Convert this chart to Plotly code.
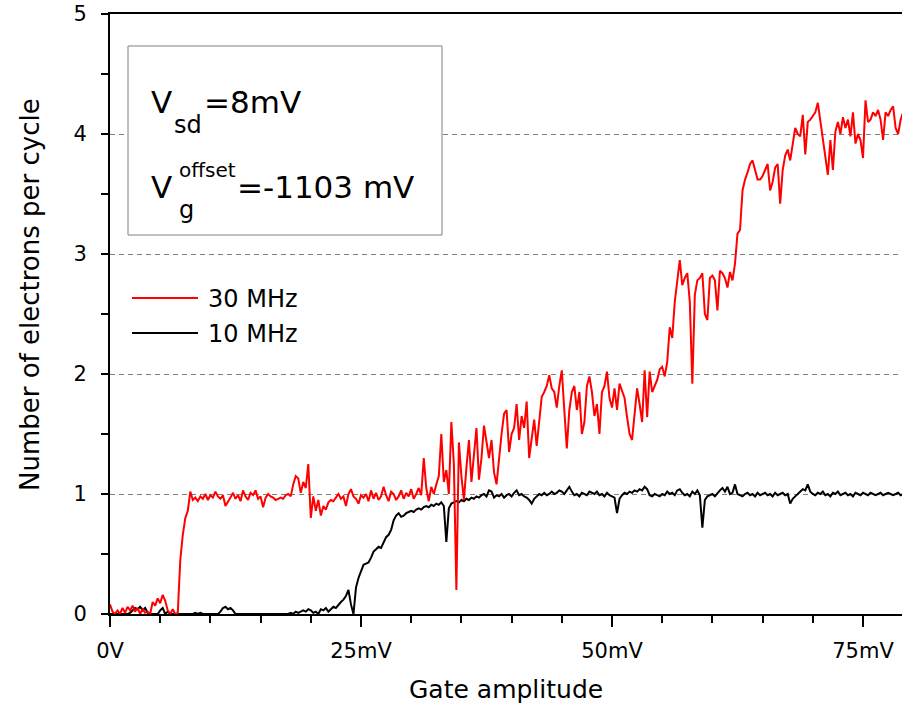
import plotly.graph_objects as go

# Gate amplitude sampling step (mV); both traces share the same grid.
gate_step_mv = 0.25

# Number of electrons per cycle, 30 MHz drive (one row per 5 mV)
electrons_30mhz = [
    0.08, 0.02, 0.0, 0.03, 0.0, 0.05, 0.01, 0.06, 0.03, 0.07, 0.02, 0.05, 0.0, 0.04, 0.01, 0.02, 0.0, 0.1, 0.07, 0.13,
    0.09, 0.16, 0.11, 0.03, 0.0, 0.04, 0.0, 0.01, 0.45, 0.66, 0.8, 0.86, 1.02, 0.95, 0.97, 0.94, 0.98, 0.96, 1.0, 0.95,
    0.99, 0.97, 1.02, 0.98, 0.96, 0.99, 0.9, 0.93, 0.97, 1.01, 0.96, 0.99, 0.94, 1.03, 0.98, 0.95, 1.01, 0.99, 1.03, 0.96,
    0.98, 0.89, 0.97, 1.0, 0.98, 0.97, 0.95, 0.96, 0.97, 0.96, 0.99, 1.0, 0.98, 1.08, 1.15, 1.13, 1.01, 1.1, 1.05, 1.25,
    0.8, 0.98, 0.86, 0.95, 0.82, 0.9, 0.87, 0.93, 0.95, 0.94, 0.97, 1.0, 0.96, 0.98, 0.9, 1.0, 1.04, 0.98, 0.96, 0.92,
    0.99, 0.97, 1.0, 0.94, 1.03, 0.96, 1.01, 0.95, 0.98, 1.06, 0.99, 0.94, 1.02, 1.0, 0.95, 0.98, 1.03, 0.96, 1.01, 0.98,
    1.04, 0.96, 1.0, 1.05, 0.99, 1.3, 1.05, 0.94, 1.06, 1.0, 1.08, 1.15, 1.5, 1.1, 1.2, 1.0, 1.6, 1.25, 0.2, 1.43,
    1.15, 0.95, 1.22, 1.45, 1.1, 1.35, 1.55, 1.12, 1.3, 1.57, 1.45, 1.3, 1.45, 1.18, 1.08, 1.3, 1.5, 1.67, 1.7, 1.35,
    1.5, 1.55, 1.75, 1.45, 1.65, 1.55, 1.77, 1.3, 1.45, 1.62, 1.4, 1.6, 1.81, 1.85, 1.9, 1.99, 1.88, 1.85, 1.72, 1.9,
    2.03, 1.7, 1.38, 1.7, 1.85, 1.9, 1.7, 1.85, 1.5, 1.6, 1.9, 1.98, 1.85, 1.65, 1.75, 1.5, 1.85, 1.9, 2.02, 1.8,
    1.72, 1.88, 1.7, 1.92, 1.85, 1.8, 1.64, 1.5, 1.45, 1.7, 1.88, 1.75, 1.6, 2.03, 1.64, 2.02, 1.85, 1.9, 1.95, 2.04,
    2.06, 1.98, 2.1, 2.39, 2.3, 2.6, 2.76, 2.95, 2.74, 2.8, 2.84, 2.6, 1.92, 2.66, 2.78, 2.8, 2.84, 2.5, 2.45, 2.8,
    2.82, 2.78, 2.53, 2.86, 2.84, 2.8, 2.72, 2.85, 2.78, 2.92, 3.17, 3.2, 3.53, 3.62, 3.68, 3.75, 3.78, 3.7, 3.62, 3.62,
    3.65, 3.7, 3.75, 3.53, 3.6, 3.72, 3.75, 3.42, 3.7, 3.82, 3.87, 3.78, 3.9, 4.05, 4.0, 3.98, 4.16, 3.83, 4.1, 4.12,
    4.15, 4.18, 4.26, 4.1, 3.95, 3.8, 3.66, 3.95, 3.7, 4.02, 4.1, 4.0, 4.14, 4.05, 4.12, 3.98, 4.18, 3.92, 4.0, 3.95,
    3.8, 4.28, 4.1, 4.12, 4.18, 4.15, 4.2, 4.12, 3.95, 4.18, 4.15, 4.2, 4.23, 4.05, 4.0, 4.12, 4.18,
]

# Number of electrons per cycle, 10 MHz drive (one row per 5 mV)
electrons_10mhz = [
    0.0, 0.0, 0.0, 0.0, 0.0, 0.0, 0.0, 0.0, 0.01, 0.03, 0.05, 0.04, 0.06, 0.03, 0.05, 0.01, 0.0, 0.0, 0.0, 0.0,
    0.03, 0.05, 0.0, 0.02, 0.0, 0.0, 0.0, 0.0, 0.0, 0.0, 0.0, 0.0, 0.0, 0.0, 0.01, 0.0, 0.01, 0.0, 0.0, 0.0,
    0.0, 0.0, 0.0, 0.0, 0.02, 0.05, 0.06, 0.04, 0.05, 0.03, 0.0, 0.0, 0.0, 0.0, 0.0, 0.0, 0.0, 0.0, 0.0, 0.0,
    0.0, 0.0, 0.0, 0.0, 0.0, 0.0, 0.0, 0.0, 0.0, 0.0, 0.0, 0.0, 0.01, 0.0, 0.02, 0.01, 0.02, 0.03, 0.02, 0.04,
    0.03, 0.01, 0.02, 0.0, 0.04, 0.03, 0.05, 0.02, 0.04, 0.06, 0.05, 0.08, 0.1, 0.12, 0.15, 0.2, 0.08, 0.0, 0.22, 0.3,
    0.36, 0.41, 0.42, 0.43, 0.47, 0.52, 0.54, 0.56, 0.55, 0.6, 0.64, 0.66, 0.7, 0.78, 0.82, 0.84, 0.81, 0.82, 0.84, 0.85,
    0.86, 0.85, 0.87, 0.88, 0.87, 0.89, 0.9, 0.89, 0.91, 0.9, 0.92, 0.91, 0.93, 0.9, 0.6, 0.88, 0.92, 0.93, 0.94, 0.93,
    0.95, 0.94, 0.96, 0.95, 0.97, 0.96, 0.98, 0.97, 0.99, 1.0, 0.98, 1.03, 1.02, 0.97, 0.99, 0.98, 1.0, 0.97, 0.99, 1.0,
    0.98, 1.01, 1.03, 0.99, 1.0, 0.98, 0.97, 0.95, 0.92, 0.96, 0.98, 1.0, 0.99, 1.01, 0.99, 1.0, 1.02, 1.0, 1.01, 1.03,
    1.02, 1.0, 1.03, 1.06, 1.02, 0.99, 1.0, 0.98, 1.01, 1.0, 0.99, 1.02, 1.01, 1.0, 1.02, 0.99, 1.0, 0.98, 1.01, 0.99,
    0.98, 0.97, 0.84, 0.96, 0.99, 1.01, 1.0, 1.02, 1.01, 1.03, 1.02, 1.04, 1.03, 1.06, 1.04, 0.99, 0.98, 1.0, 0.99, 0.98,
    1.0, 0.99, 1.02, 1.0, 1.01, 0.99, 1.03, 1.04, 1.01, 0.99, 1.0, 0.98, 1.02, 1.0, 1.03, 0.99, 0.72, 0.95, 0.98, 0.99,
    1.0, 0.98, 1.01, 1.03, 1.05, 1.02, 1.06, 1.0, 1.01, 1.08, 1.0, 0.99, 0.98, 1.0, 1.01, 0.99, 1.0, 0.98, 1.01, 0.99,
    1.0, 1.01, 0.99, 1.0, 0.98, 1.01, 0.99, 1.0, 1.01, 0.99, 1.0, 0.92, 0.96, 0.98, 1.0, 1.02, 1.04, 1.03, 1.08, 1.02,
    1.0, 0.99, 1.01, 1.0, 1.02, 0.99, 1.0, 0.98, 1.01, 1.0, 1.02, 0.99, 1.0, 1.01, 0.99, 1.0, 0.98, 1.01, 1.0, 0.99,
    1.01, 1.0, 0.99, 1.01, 1.0, 0.99, 1.0, 1.01, 0.99, 1.0, 1.01, 1.0, 0.99, 1.0, 1.01, 0.99, 1.0,
]

gate_mv = [round(i * gate_step_mv, 2) for i in range(len(electrons_30mhz))]

x_tick_vals = [0, 25, 50, 75]
x_tick_text = ["0V", "25mV", "50mV", "75mV"]
y_tick_vals = [0, 1, 2, 3, 4, 5]

series_names = ["30 MHz", "10 MHz"]
series_colors = ["#ff0000", "#000000"]

FONT = "DejaVu Sans"
W, H = 902, 708
M_L, M_R, M_T, M_B = 110, 0, 14, 94
PW, PH = W - M_L - M_R, H - M_T - M_B


def px(xp):
    return (xp - M_L) / PW


def py(yp):
    return (H - M_B - yp) / PH


fig = go.Figure()
fig.add_trace(go.Scatter(x=gate_mv, y=electrons_10mhz, mode="lines", name=series_names[1],
                         line=dict(color=series_colors[1], width=2), showlegend=False))
fig.add_trace(go.Scatter(x=gate_mv, y=electrons_30mhz, mode="lines", name=series_names[0],
                         line=dict(color=series_colors[0], width=2), showlegend=False))

annotations = []
shapes = []


def label(text, left, baseline, size, color="black"):
    annotations.append(dict(
        text=text, xref="paper", yref="paper", x=px(left), y=py(baseline - 0.35 * size),
        xanchor="left", yanchor="middle", showarrow=False,
        font=dict(family=FONT, size=size, color=color), borderpad=0,
    ))


# Parameter box
shapes.append(dict(type="rect", xref="paper", yref="paper", x0=px(128), x1=px(442), y0=py(235), y1=py(46),
                   line=dict(color="#808080", width=1), fillcolor="white", layer="above"))
label("V", 150, 113, 31)
label("sd", 173, 133, 24)
label("=8mV", 203, 113, 31)
label("V", 150, 198, 31)
label("offset", 178, 177, 20)
label("g", 178, 218, 24)
label("=-1103 mV", 236, 198, 31)

# Series key
for name, color, yc in zip(series_names, series_colors, [298, 333]):
    shapes.append(dict(type="line", xref="paper", yref="paper", x0=px(132), x1=px(198), y0=py(yc), y1=py(yc),
                       line=dict(color=color, width=2), layer="above"))
    label(name, 207, yc + 9, 24)

# Axis titles
annotations.append(dict(text="Gate amplitude", xref="paper", yref="paper", x=px(506), y=py(689),
                        xanchor="center", yanchor="middle", showarrow=False,
                        font=dict(family=FONT, size=25, color="black")))
annotations.append(dict(text="Number of electrons per cycle", xref="paper", yref="paper", x=px(30), y=py(295),
                        xanchor="center", yanchor="middle", showarrow=False, textangle=-90,
                        font=dict(family=FONT, size=26, color="black")))

fig.update_layout(
    width=W, height=H,
    margin=dict(l=M_L, r=M_R, t=M_T, b=M_B, pad=0),
    paper_bgcolor="white", plot_bgcolor="white",
    showlegend=False,
    font=dict(family=FONT, color="black"),
    annotations=annotations,
    shapes=shapes,
    xaxis=dict(
        range=[0, (W - M_L) / 10.04], showline=True, linecolor="black", linewidth=2, mirror=True,
        ticks="outside", ticklen=11, tickwidth=2, tickcolor="black",
        tickvals=x_tick_vals, ticktext=x_tick_text, tickfont=dict(family=FONT, size=21, color="black"),
        ticklabelstandoff=6,
        showgrid=False, zeroline=False,
        minor=dict(ticks="outside", ticklen=7, tickwidth=2, tickcolor="black", dtick=5, tick0=0, showgrid=False),
    ),
    yaxis=dict(
        range=[0, 5], showline=True, linecolor="black", linewidth=2,
        ticks="outside", ticklen=7, tickwidth=2, tickcolor="black",
        tickvals=y_tick_vals, tickfont=dict(family=FONT, size=21, color="black"),
        ticklabelstandoff=10,
        showgrid=True, gridcolor="#808080", gridwidth=1, griddash="5px,4px", zeroline=False,
        minor=dict(ticks="outside", ticklen=7, tickwidth=2, tickcolor="black", dtick=0.5, tick0=0, showgrid=False),
    ),
)

fig.write_html("out.html")
